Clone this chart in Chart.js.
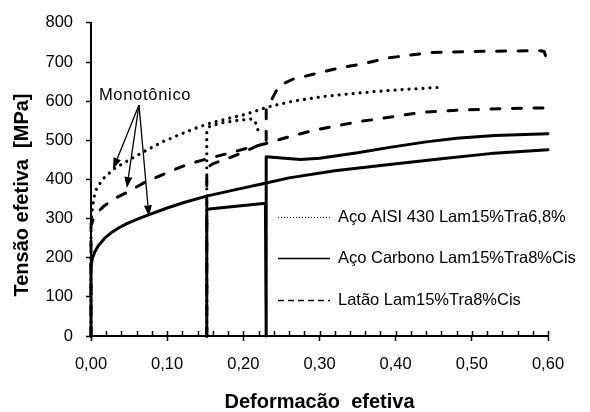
<!DOCTYPE html>
<html>
<head>
<meta charset="utf-8">
<script src="https://cdn.jsdelivr.net/npm/chart.js@4/dist/chart.umd.min.js"></script>
<style>
  html, body { margin: 0; padding: 0; background: #fff; }
  #wrap { width: 590px; height: 412px; position: relative; }
</style>
</head>
<body>
<div id="wrap"><canvas id="chart"></canvas></div>
<script>
// Tick values
const xTicks = [0, 0.1, 0.2, 0.3, 0.4, 0.5, 0.6];
const yTicks = [0, 100, 200, 300, 400, 500, 600, 700, 800];

// Legend labels (one per material)
const labels = [
  'Aço AISI 430 Lam15%Tra6,8%',
  'Aço Carbono Lam15%Tra8%Cis',
  'Latão Lam15%Tra8%Cis'
];

// Aço AISI 430 - monotonic (dotted)
const aisiMonoX = [0, 0, 0.002, 0.004, 0.007, 0.015, 0.030, 0.050, 0.074, 0.095, 0.118, 0.140, 0.160, 0.185, 0.204, 0.232, 0.265, 0.309, 0.375, 0.420, 0.455];
const aisiMonoY = [0, 285, 330, 355, 375, 400, 427, 450, 476, 497, 516, 533, 546, 558, 567, 585, 600, 613, 625, 631, 635];
// Aço AISI 430 - pre-strained (dotted)
const aisiPreX = [0.152, 0.152, 0.156, 0.170, 0.190, 0.210, 0.215, 0.219];
const aisiPreY = [0, 525, 536, 544, 550, 554, 551, 527];

// Aço Carbono - monotonic (solid)
const carbMonoX = [0, 0, 0.002, 0.005, 0.010, 0.018, 0.026, 0.036, 0.047, 0.065, 0.079, 0.100, 0.122, 0.153, 0.190, 0.230, 0.260, 0.320, 0.392, 0.460, 0.524, 0.600];
const carbMonoY = [0, 180, 200, 215, 232, 250, 263, 276, 287, 302, 312, 327, 341, 358, 374, 391, 404, 422, 438, 453, 466, 476];
// Aço Carbono - pre-strained (solid)
const carbPreX = [0.152, 0.152, 0.229, 0.230, 0.230, 0.250, 0.275, 0.300, 0.350, 0.392, 0.440, 0.480, 0.530, 0.600];
const carbPreY = [0, 324, 339, 0, 458, 455, 451, 454, 468, 482, 496, 505, 512, 517];

// Latão - monotonic (dashed)
const latMonoX = [0, 0, 0.003, 0.008, 0.017, 0.030, 0.047, 0.070, 0.103, 0.129, 0.155, 0.179, 0.205, 0.230, 0.260, 0.291, 0.349, 0.375, 0.436, 0.480, 0.524, 0.600];
const latMonoY = [0, 280, 300, 315, 332, 350, 367, 392, 420, 440, 454, 466, 480, 492, 509, 525, 547, 554, 572, 577, 580, 583];
// Latão - pre-strained (dashed)
const latPreX = [0.152, 0.152, 0.160, 0.188, 0.220, 0.230, 0.230, 0.236, 0.241, 0.247, 0.265, 0.296, 0.326, 0.353, 0.392, 0.445, 0.501, 0.590, 0.595, 0.601];
const latPreY = [0, 430, 440, 460, 487, 490, 577, 600, 618, 640, 656, 671, 685, 694, 711, 724, 727, 729, 727, 690];

// "Monotônico" annotation: text anchor and arrows (data coordinates)
const noteText = 'Monotônico';
const notePos = [0.071, 615];
const arrowFrom = [0.063, 590];
const arrowToX = [0.029, 0.047, 0.076];
const arrowToY = [427, 378, 306];

const FONT = "'Liberation Sans', Arial, sans-serif";

const toXY = (xs, ys) => xs.map((x, i) => ({ x: x, y: ys[i] }));

const styles = {
  dotted: { borderWidth: 3.2, borderDash: [0.01, 7], borderCapStyle: 'round' },
  solid: { borderWidth: 3, borderDash: [], borderCapStyle: 'round' },
  dashed: { borderWidth: 3, borderDash: [9, 12.5], borderCapStyle: 'round' }
};

function series(label, xs, ys, kind) {
  return Object.assign({
    label: label,
    data: toXY(xs, ys),
    showLine: true,
    borderColor: '#000',
    backgroundColor: '#000',
    borderJoinStyle: 'round',
    pointRadius: 0,
    tension: 0,
    clip: false,
    kind: kind
  }, styles[kind]);
}

function drawArrow(ctx, x1, y1, x2, y2) {
  const ang = Math.atan2(y2 - y1, x2 - x1);
  const len = 11, half = 4;
  const bx = x2 - len * Math.cos(ang), by = y2 - len * Math.sin(ang);
  ctx.beginPath();
  ctx.moveTo(x1, y1);
  ctx.lineTo(bx, by);
  ctx.stroke();
  ctx.beginPath();
  ctx.moveTo(x2, y2);
  ctx.lineTo(bx + half * Math.sin(ang), by - half * Math.cos(ang));
  ctx.lineTo(bx - half * Math.sin(ang), by + half * Math.cos(ang));
  ctx.closePath();
  ctx.fill();
}

// Minor ticks, annotation, y title and legend
const extras = {
  id: 'extras',
  afterDraw(chart) {
    const ctx = chart.ctx;
    const xs = chart.scales.x, ys = chart.scales.y;
    const axisY = ys.getPixelForValue(0);
    ctx.save();
    ctx.strokeStyle = '#000';
    ctx.fillStyle = '#000';

    // inward ticks every 0.02 on x axis
    ctx.lineWidth = 1.5;
    for (let i = 0; i <= 30; i++) {
      const px = Math.round(xs.getPixelForValue(i * 0.02)) + 0.5;
      ctx.beginPath();
      ctx.moveTo(px, axisY);
      ctx.lineTo(px, axisY - 5);
      ctx.stroke();
    }

    // annotation arrows
    ctx.lineWidth = 1.3;
    const fx = xs.getPixelForValue(arrowFrom[0]), fy = ys.getPixelForValue(arrowFrom[1]);
    arrowToX.forEach((v, i) => {
      drawArrow(ctx, fx, fy, xs.getPixelForValue(v), ys.getPixelForValue(arrowToY[i]));
    });
    ctx.font = '16.5px ' + FONT;
    ctx.letterSpacing = '0.7px';
    ctx.textAlign = 'center';
    ctx.textBaseline = 'middle';
    ctx.fillText(noteText, xs.getPixelForValue(notePos[0]), ys.getPixelForValue(notePos[1]));
    ctx.letterSpacing = '0px';

    // y axis title
    ctx.save();
    ctx.translate(22, 195);
    ctx.rotate(-Math.PI / 2);
    ctx.font = 'bold 20px ' + FONT;
    ctx.fillText('Tensão efetiva  [MPa]', 0, 0);
    ctx.restore();

    // legend
    const rows = [217, 258, 300];
    const legendSets = chart.data.datasets.filter(d => d.label);
    legendSets.forEach((d, i) => {
      const y = rows[i] + 0.5;
      ctx.beginPath();
      if (d.kind === 'dotted') { ctx.lineWidth = 1; ctx.setLineDash([1, 2]); }
      else if (d.kind === 'dashed') { ctx.lineWidth = 1.5; ctx.setLineDash([6, 4]); }
      else { ctx.lineWidth = 1.5; ctx.setLineDash([]); }
      ctx.moveTo(278, y);
      ctx.lineTo(330, y);
      ctx.stroke();
      ctx.setLineDash([]);
      ctx.textAlign = 'left';
      ctx.font = '16.5px ' + FONT;
      ctx.fillText(d.label, 338, rows[i]);
    });
    ctx.restore();
  }
};

new Chart(document.getElementById('chart'), {
  type: 'scatter',
  data: {
    datasets: [
      series(labels[0], aisiMonoX, aisiMonoY, 'dotted'),
      series(null, aisiPreX, aisiPreY, 'dotted'),
      series(labels[1], carbMonoX, carbMonoY, 'solid'),
      series(null, carbPreX, carbPreY, 'solid'),
      series(labels[2], latMonoX, latMonoY, 'dashed'),
      series(null, latPreX, latPreY, 'dashed')
    ]
  },
  options: {
    responsive: true,
    maintainAspectRatio: false,
    animation: false,
    devicePixelRatio: 1,
    events: [],
    layout: { padding: { top: 20, right: 42, bottom: 0, left: 0 } },
    plugins: {
      legend: { display: false },
      tooltip: { enabled: false }
    },
    scales: {
      x: {
        type: 'linear',
        min: 0,
        max: 0.6,
        afterBuildTicks: (axis) => { axis.ticks = xTicks.map(v => ({ value: v })); },
        afterFit: (axis) => { axis.height = 76; },
        ticks: {
          color: '#000',
          font: { family: FONT, size: 16.5 },
          padding: 14,
          maxRotation: 0,
          callback: (v) => v.toFixed(2).replace('.', ',')
        },
        grid: { drawOnChartArea: false, drawTicks: true, tickLength: 5, color: '#000', tickWidth: 1.5 },
        border: { color: '#000', width: 2 },
        title: {
          display: true,
          text: 'Deformacão  efetiva',
          color: '#000',
          font: { family: FONT, size: 20, weight: 'bold', lineHeight: 1 },
          padding: { top: 0, bottom: 0 }
        }
      },
      y: {
        min: 0,
        max: 800,
        afterBuildTicks: (axis) => { axis.ticks = yTicks.map(v => ({ value: v })); },
        afterFit: (axis) => { axis.width = 91; },
        ticks: {
          color: '#000',
          font: { family: FONT, size: 16.5 },
          padding: 13
        },
        grid: { drawOnChartArea: false, drawTicks: true, tickLength: 5, color: '#000', tickWidth: 1.5 },
        border: { color: '#000', width: 2 }
      }
    }
  },
  plugins: [extras]
});
</script>
</body>
</html>
